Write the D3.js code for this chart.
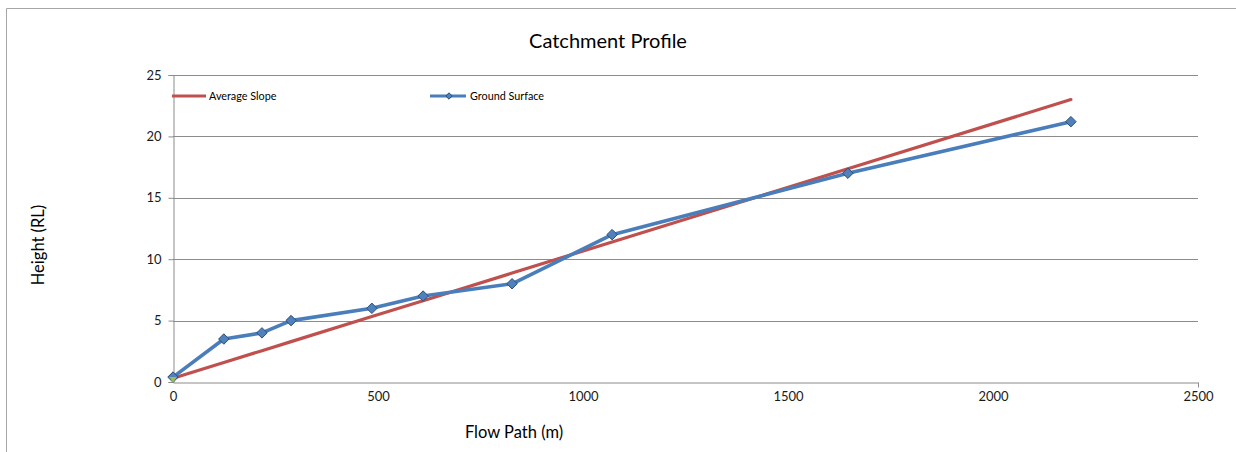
<!DOCTYPE html>
<html>
<head>
<meta charset="utf-8">
<script src="https://cdn.jsdelivr.net/npm/d3@7"></script>
<style>
  body { margin: 0; background: #fff; }
  svg { display: block; font-family: Lato, "Open Sans", sans-serif; }
</style>
</head>
<body>
<div id="chart"></div>
<script>
// Catchment profile – ground surface vs average slope

const flowPath = [0, 124, 217, 288, 485, 610, 827, 1071, 1646, 2190];
const groundSurface = [0.4, 3.5, 4, 5, 6, 7, 8, 12, 17, 21.2];
const averageSlope = [0.3, 1.59, 2.55, 3.29, 5.33, 6.62, 8.87, 11.4, 17.36, 23];
const originPoint = [[0, 0]];
const xTicks = [0, 500, 1000, 1500, 2000, 2500];
const yTicks = [0, 5, 10, 15, 20, 25];

const width = 1236, height = 452;
const margin = { top: 75, right: 38, bottom: 70, left: 173 };

const svg = d3.select('#chart').append('svg')
    .attr('width', width)
    .attr('height', height);

// outer frame (left + top edges visible)
svg.append('path')
    .attr('d', `M6.5,${height} V8.5 H${width}`)
    .attr('fill', 'none')
    .attr('stroke', '#a6a6a6')
    .attr('stroke-width', 1);

const x = d3.scaleLinear().domain([0, 2500]).range([margin.left, width - margin.right]);
const y = d3.scaleLinear().domain([0, 25]).range([height - margin.bottom, margin.top]);

// gridlines
svg.append('g')
    .selectAll('line')
    .data(yTicks.filter(t => t > 0))
    .join('line')
    .attr('x1', x(0)).attr('x2', x(2500))
    .attr('y1', d => Math.round(y(d)) + 0.5).attr('y2', d => Math.round(y(d)) + 0.5)
    .attr('stroke', '#8c8c8c');

// axes
const xAxis = svg.append('g')
    .attr('transform', `translate(0,${Math.round(y(0)) + 0.5})`)
    .call(d3.axisBottom(x).tickValues(xTicks).tickFormat(d3.format('d')).tickSize(0).tickPadding(9));
xAxis.selectAll('.tick').filter(d => d === 2500).append('line')
    .attr('y2', 5).attr('stroke', '#8c8c8c');

const yAxis = svg.append('g')
    .attr('transform', `translate(${Math.round(x(0)) + 0.5},0)`)
    .call(d3.axisLeft(y).tickValues(yTicks).tickSize(5).tickPadding(7));

[xAxis, yAxis].forEach(a => {
    a.select('.domain').attr('stroke', '#8c8c8c');
    a.selectAll('.tick line').attr('stroke', '#8c8c8c');
    a.selectAll('text')
        .attr('fill', '#1a1a1a')
        .attr('font-size', '13px')
        .attr('font-family', 'Lato, "Open Sans", sans-serif');
});

// series
const slopeData = flowPath.map((d, i) => [d, averageSlope[i]]);
const groundData = flowPath.map((d, i) => [d, groundSurface[i]]);
const line = d3.line().x(d => x(d[0])).y(d => y(d[1]));

svg.append('path')
    .datum(slopeData)
    .attr('d', line)
    .attr('fill', 'none')
    .attr('stroke', '#c0504d')
    .attr('stroke-width', 3.2)
    .attr('stroke-linecap', 'round');

svg.append('path')
    .datum(groundData)
    .attr('d', line)
    .attr('fill', 'none')
    .attr('stroke', '#4a7ebb')
    .attr('stroke-width', 3.6)
    .attr('stroke-linejoin', 'round');

const diamond = d3.symbol().type(d3.symbolDiamond2).size(70);

svg.append('g')
    .selectAll('path')
    .data(groundData)
    .join('path')
    .attr('d', diamond)
    .attr('transform', d => `translate(${x(d[0])},${y(d[1])})`)
    .attr('fill', '#4f81bd')
    .attr('stroke', '#2c4d75')
    .attr('stroke-width', 1);

// small green marker at origin
svg.append('g')
    .selectAll('path')
    .data(originPoint)
    .join('path')
    .attr('d', d3.symbol().type(d3.symbolTriangle).size(22))
    .attr('transform', d => `translate(${x(d[0])},${y(d[1]) - 3}) rotate(180)`)
    .attr('fill', '#9bbb59');

// title & axis titles
svg.append('text')
    .attr('x', 608).attr('y', 48)
    .attr('text-anchor', 'middle')
    .attr('font-size', '20px')
    .attr('fill', '#000')
    .text('Catchment Profile');

svg.append('text')
    .attr('x', 514).attr('y', 438)
    .attr('text-anchor', 'middle')
    .attr('font-size', '16.5px')
    .attr('fill', '#000')
    .text('Flow Path (m)');

svg.append('text')
    .attr('transform', 'translate(44,245) rotate(-90)')
    .attr('text-anchor', 'middle')
    .attr('font-size', '16.5px')
    .attr('fill', '#000')
    .text('Height (RL)');

// legend
const legend = svg.append('g').attr('font-size', '10.8px').attr('fill', '#000');
legend.append('line')
    .attr('x1', 172).attr('x2', 206).attr('y1', 96).attr('y2', 96)
    .attr('stroke', '#c0504d').attr('stroke-width', 3);
legend.append('text').attr('x', 209).attr('y', 100).text('Average Slope');

legend.append('line')
    .attr('x1', 430).attr('x2', 466).attr('y1', 96).attr('y2', 96)
    .attr('stroke', '#4a7ebb').attr('stroke-width', 3);
legend.append('path')
    .attr('d', d3.symbol().type(d3.symbolDiamond2).size(26))
    .attr('transform', 'translate(449,96)')
    .attr('fill', '#4f81bd').attr('stroke', '#2c4d75');
legend.append('text').attr('x', 470).attr('y', 100).text('Ground Surface');
</script>
</body>
</html>
